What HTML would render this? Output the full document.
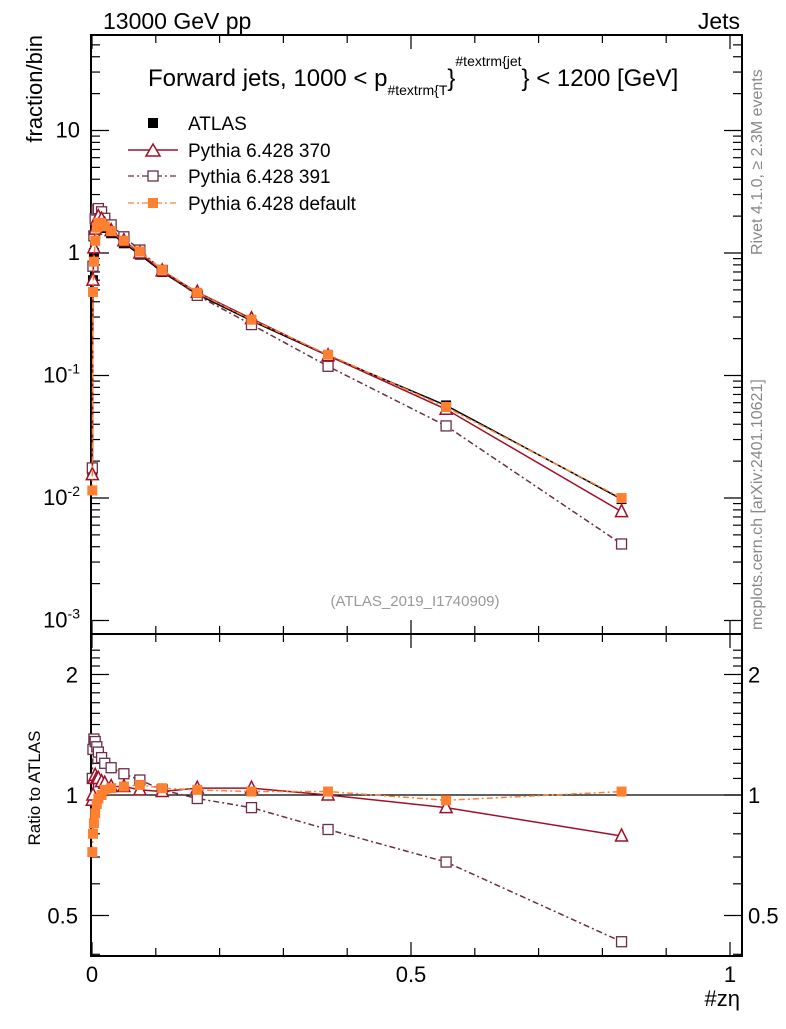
<!DOCTYPE html>
<html><head><meta charset="utf-8"><style>
body{margin:0;background:#fff;width:786px;height:1024px;overflow:hidden}
svg{font-family:"Liberation Sans",sans-serif}
</style></head><body>
<svg id="c" width="786" height="1024">
<g id="frame"></g><g id="marks"></g>
<text x="103" y="29" font-size="23">13000 GeV pp</text>
<text x="740" y="29" font-size="23" text-anchor="end">Jets</text>
<text x="148" y="86" font-size="24">Forward jets, 1000 &lt; p<tspan font-size="14" dy="9">#textrm{T</tspan><tspan font-size="24" dy="-9">}</tspan><tspan font-size="14" dy="-20">#textrm{jet</tspan><tspan font-size="24" dy="20">} &lt; 1200 [GeV]</tspan></text>
<text x="42" y="35" font-size="22" text-anchor="end" transform="rotate(-90 42 35)">fraction/bin</text>
<text x="40" y="788" font-size="17" text-anchor="middle" transform="rotate(-90 40 788)">Ratio to ATLAS</text>
<text x="740" y="1006" font-size="22" text-anchor="end">#zη</text>
<text x="762" y="255" font-size="16" fill="#888" transform="rotate(-90 762 255)">Rivet 4.1.0, ≥ 2.3M events</text>
<text x="762" y="630" font-size="16" fill="#888" transform="rotate(-90 762 630)">mcplots.cern.ch [arXiv:2401.10621]</text>
<text x="415" y="606" font-size="15" fill="#999" text-anchor="middle">(ATLAS_2019_I1740909)</text>
<g font-size="19">
<rect x="148" y="118" width="10" height="10" fill="#000"/>
<text x="188" y="130">ATLAS</text>
<line x1="128" y1="150" x2="178" y2="150" stroke="#a0102a" stroke-width="1.5"/>
<path d="M153 144 L160 156 L146 156 Z" fill="#fff" stroke="#a0102a" stroke-width="1.5"/>
<text x="188" y="157">Pythia 6.428 370</text>
<line x1="128" y1="176" x2="178" y2="176" stroke="#6b2e44" stroke-width="1.3" stroke-dasharray="6,3,2,3"/>
<rect x="148" y="171" width="10" height="10" fill="#fff" stroke="#6b2e44" stroke-width="1.3"/>
<text x="188" y="183">Pythia 6.428 391</text>
<line x1="128" y1="203" x2="178" y2="203" stroke="#ff8030" stroke-width="1.3" stroke-dasharray="6,3,2,3"/>
<rect x="148" y="198" width="10" height="10" fill="#ff8030"/>
<text x="188" y="210">Pythia 6.428 default</text>
</g>
</svg>
<script>
const xs=[0.0005,0.0015,0.003,0.005,0.0075,0.01,0.015,0.02,0.03,0.05,0.075,0.11,0.165,0.25,0.37,0.555,0.83];
const atlas=[0.016,0.6,1.0,1.4,1.7,1.8,1.75,1.6,1.45,1.2,0.97,0.7,0.46,0.28,0.145,0.057,0.0098];
const r370=[0.97,1.0,1.1,1.12,1.1,1.1,1.08,1.07,1.05,1.05,1.03,1.02,1.04,1.04,1.0,0.93,0.79];
const r391=[1.1,1.3,1.38,1.36,1.32,1.28,1.24,1.2,1.17,1.13,1.09,1.03,0.98,0.93,0.82,0.68,0.43];
const rdef=[0.72,0.8,0.85,0.9,0.95,0.98,1.0,1.03,1.04,1.05,1.06,1.04,1.03,1.02,1.02,0.97,1.02];
const NS="http://www.w3.org/2000/svg";
const L=91,R=742,T=35,M=634,B=956;
const X=v=>92+v*638;
const Y=v=>253-122.5*Math.log10(v);
const YR=v=>795-120.5*Math.log2(v);
const fr=document.getElementById('frame'),mk=document.getElementById('marks');
function el(t,a,p){const e=document.createElementNS(NS,t);for(const k in a)e.setAttribute(k,a[k]);(p||mk).appendChild(e);return e;}
let e;
e=el('rect',{x:L,y:T,width:R-L,height:M-T,fill:'none',stroke:'#000','stroke-width':2},fr);


e=el('rect',{x:L,y:M,width:R-L,height:B-M,fill:'none',stroke:'#000','stroke-width':2},fr);


for(let i=0;i<=10;i++){const v=i/10,x=X(v),len=i%5==0?14:8;
 [[T,1],[M,-1],[M,1],[B,-1]].forEach(([y,d])=>el('line',{x1:x,x2:x,y1:y,y2:y+d*len,stroke:'#000','stroke-width':1.2},fr));}
const xtl=['0','0.5','1'];
[0,0.5,1].forEach((v,i)=>{e=el('text',{x:X(v),y:982,'font-size':22,'text-anchor':'middle'},fr);e.textContent=xtl[i];

});
for(let d=-3;d<=1;d++){for(let m=1;m<10;m++){const v=m*Math.pow(10,d),y=Y(v);if(y<T||y>M)continue;const len=m==1?18:9;
 el('line',{x1:L,x2:L+len,y1:y,y2:y,stroke:'#000','stroke-width':1.2},fr);el('line',{x1:R,x2:R-len,y1:y,y2:y,stroke:'#000','stroke-width':1.2},fr);}}
[-3,-2,-1,0,1].forEach(d=>{const y=Y(Math.pow(10,d));e=el('text',{x:80,y:y+7,'font-size':22,'text-anchor':'end'},fr);
 if(d==0)e.textContent='1';else if(d==1)e.textContent='10';else{e.textContent='10';const s=el('tspan',{'font-size':14,dy:-9},e);s.textContent=String(d);}

});
for(let v=0.4;v<=2.31;v+=0.1){const y=YR(v);if(y<M||y>B)continue;const maj=Math.abs(v-0.5)<1e-6||Math.abs(v-1)<1e-6||Math.abs(v-2)<1e-6;const len=maj?18:9;
 el('line',{x1:L,x2:L+len,y1:y,y2:y,stroke:'#000','stroke-width':1.2},fr);el('line',{x1:R,x2:R-len,y1:y,y2:y,stroke:'#000','stroke-width':1.2},fr);}
[['0.5',0.5],['1',1],['2',2]].forEach(([t,v])=>{const y=YR(v)+8;
 e=el('text',{x:78,y:y,'font-size':22,'text-anchor':'end'},fr);e.textContent=t;
 
 
 e=el('text',{x:748,y:y,'font-size':22},fr);e.textContent=t;
 
 });
el('line',{x1:L,x2:R,y1:YR(1),y2:YR(1),stroke:'#000','stroke-width':1.2},fr);
function series(vals,ys,color,dash,shape,name){
 const pts=xs.map((x,i)=>X(x)+','+ys(vals[i])).join(' ');
 e=el('polyline',{points:pts,fill:'none',stroke:color,'stroke-width':1.5,'stroke-dasharray':dash});
 
 
 xs.forEach((x,i)=>{const px=X(x),py=ys(vals[i]);let m;
  if(shape=='tri')m=el('path',{d:`M${px} ${py-7}L${px+6} ${py+5}L${px-6} ${py+5}Z`,fill:'#fff',stroke:color,'stroke-width':1.5});
  else if(shape=='open')m=el('rect',{x:px-5,y:py-5,width:10,height:10,fill:'#fff',stroke:color,'stroke-width':1.3});
  else m=el('rect',{x:px-5,y:py-5,width:10,height:10,fill:color});
  
  });
}
const s370=atlas.map((a,i)=>a*r370[i]),s391=atlas.map((a,i)=>a*r391[i]),sdef=atlas.map((a,i)=>a*rdef[i]);
series(atlas,Y,'#000','none','fill','atlas');
series(s391,Y,'#6b2e44','6,3,2,3','open','pythia-391');
series(s370,Y,'#a0102a','none','tri','pythia-370');
series(sdef,Y,'#ff8030','6,3,2,3','fill','pythia-default');
series(r391,YR,'#6b2e44','6,3,2,3','open','ratio-391');
series(r370,YR,'#a0102a','none','tri','ratio-370');
series(rdef,YR,'#ff8030','6,3,2,3','fill','ratio-default');
</script>
</body></html>
